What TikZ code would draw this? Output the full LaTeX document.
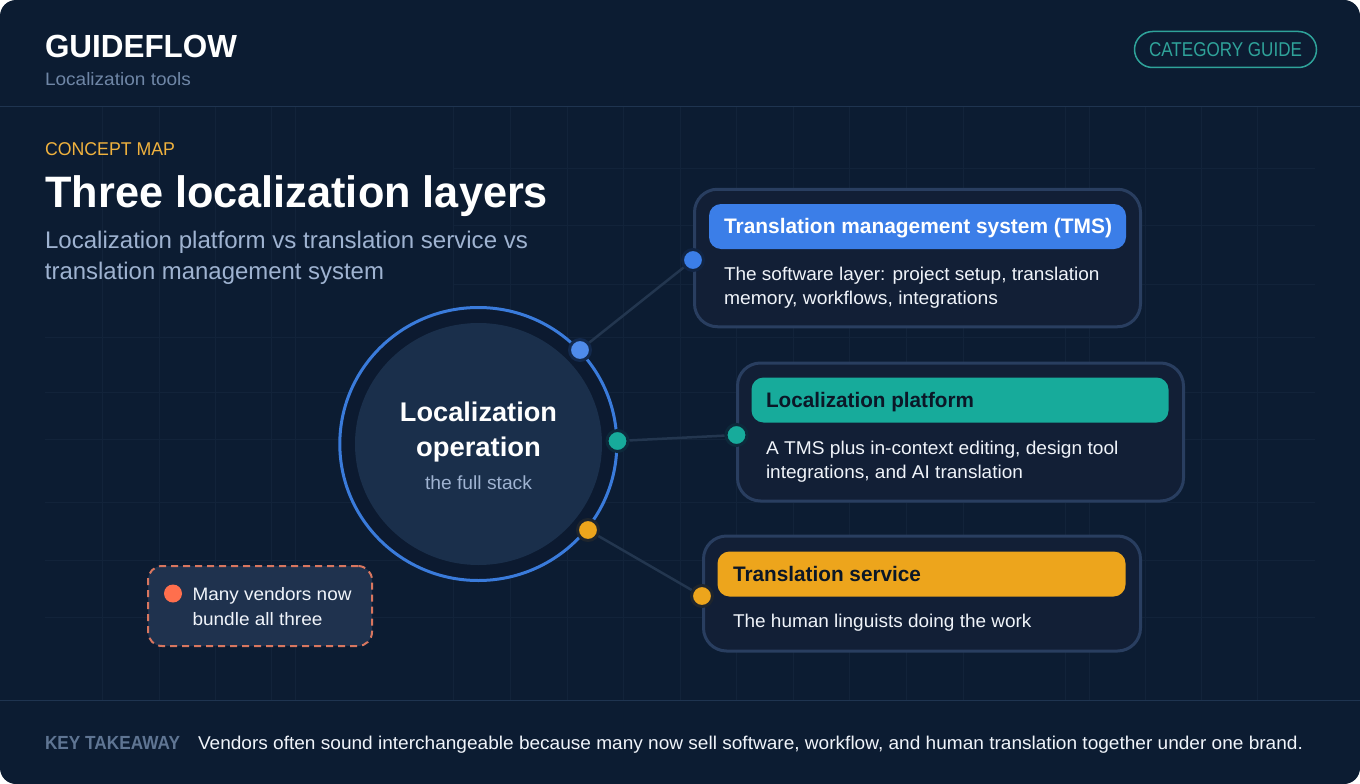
\documentclass[tikz,border=0pt]{standalone}
\usepackage{fontspec}
\usepackage{graphicx}
\usetikzlibrary{shapes.geometric}
\setmainfont{Liberation Sans}
\definecolor{pagebg}{HTML}{0C1C32}
\definecolor{gridc}{HTML}{12233A}
\definecolor{rulec}{HTML}{1F3450}
\definecolor{cardfill}{HTML}{121F36}
\definecolor{cardedge}{HTML}{293E60}
\definecolor{linkc}{HTML}{23364F}
\definecolor{blueacc}{HTML}{3B7EE8}
\definecolor{ringc}{HTML}{3A7BDB}
\definecolor{tealacc}{HTML}{17AB9B}
\definecolor{amberacc}{HTML}{EDA51C}
\definecolor{corefill}{HTML}{1A2F4B}
\definecolor{ringfill}{HTML}{0C1A30}
\definecolor{darkink}{HTML}{0B1727}
\definecolor{softtext}{HTML}{9FB3D1}
\definecolor{mutetext}{HTML}{6F86A6}
\definecolor{bodytext}{HTML}{F0F4FA}
\definecolor{notefill}{HTML}{1F324E}
\definecolor{noteedge}{HTML}{D8765F}
\definecolor{coral}{HTML}{FF6F4D}
\definecolor{pilltext}{HTML}{2FA39A}
\definecolor{keytext}{HTML}{5F7593}
\newcommand{\fw}[2]{\resizebox{#1pt}{\height}{#2}}
\newcommand{\fsz}[1]{\fontsize{#1}{#1}\selectfont}
\tikzset{
  txt/.style={inner sep=0pt,outer sep=0pt,anchor=base west},
  ctxt/.style={inner sep=0pt,outer sep=0pt,anchor=base},
  gridline/.style={draw=gridc,line width=1pt},
  rulel/.style={draw=rulec,line width=1.5pt},
  cardbox/.style={rectangle,rounded corners=23pt,draw=cardedge,fill=cardfill,line width=3pt,inner sep=0pt,outer sep=0pt},
  headbar/.style={rectangle,rounded corners=12pt,inner sep=0pt,outer sep=0pt,minimum width=417pt,minimum height=45pt},
  portdot/.style={circle,inner sep=0pt,outer sep=1.5pt,minimum size=21pt,line width=3pt},
  linkl/.style={draw=linkc,line width=2.5pt},
  headtxt/.style={txt,font=\fsz{21}\bfseries},
  bodytxt/.style={txt,font=\fsz{18.5},text=bodytext},
}
\begin{document}
\begin{tikzpicture}[x=1pt,y=-1pt]
\useasboundingbox (0,0) rectangle (1360,784);
\fill[white] (0,0) rectangle (1360,784);
\fill[pagebg,rounded corners=16pt] (0,0) rectangle (1360,784);
% faint grid
\foreach \x in {102,159,215,271,295,453,510,567,623,680,736,793,849,906,963,1065,1089,1145,1201,1257}
  \draw[gridline] (\x,107) -- (\x,700);
\foreach \y in {337,392,439,502,560,617}
  \draw[gridline] (45,\y) -- (1315,\y);
\foreach \y in {168,225,284}
  \draw[gridline] (453,\y) -- (1315,\y);
% header and footer rules
\draw[rulel] (0,106.5) -- (1360,106.5);
\draw[rulel] (0,700.5) -- (1360,700.5);
% header
\node[txt,font=\fsz{32}\bfseries,text=white] (brand) at (45,58) {\fw{192}{GUIDEFLOW}};
\node[txt,font=\fsz{18},text=mutetext] (brandsub) at (45,85) {\fw{146}{Localization tools}};
\node[rectangle,rounded corners=18pt,draw=pilltext,line width=1.5pt,outer sep=0pt,minimum width=182pt,minimum height=36pt,inner sep=0pt] (pill) at (1225.5,49.5) {};
\node[txt,font=\fsz{20},text=pilltext] (pilltxt) at (1149,57) {\fw{153}{CATEGORY GUIDE}};
% title block
\node[txt,font=\fsz{18.5},text=amberacc!85!white] (eyebrow) at (45,155) {\fw{130}{CONCEPT MAP}};
\node[txt,font=\fsz{44}\bfseries,text=white] (title) at (45.5,207) {\fw{502.5}{Three localization layers}};
\node[txt,font=\fsz{24},text=softtext] (sub1) at (45,248) {\fw{483}{Localization platform vs translation service vs}};
\node[txt,font=\fsz{24},text=softtext] (sub2) at (45,279) {\fw{339}{translation management system}};
% central hub
\node[ellipse,draw=ringc,fill=ringfill,line width=3pt,outer sep=0pt,minimum width=277pt,minimum height=273pt,inner sep=0pt] (ring) at (478.3,444) {};
\node[ellipse,fill=corefill,outer sep=0pt,minimum width=247pt,minimum height=242pt,inner sep=0pt] (core) at (478.5,444) {};
\node[ctxt,font=\fsz{27}\bfseries,text=white] (hub1) at (478.5,421) {\fw{157}{Localization}};
\node[ctxt,font=\fsz{27}\bfseries,text=white] (hub2) at (478.5,456) {\fw{125}{operation}};
\node[ctxt,font=\fsz{19},text=softtext] (hub3) at (478.5,489) {\fw{107}{the full stack}};
% cards
\node[cardbox,minimum width=446pt,minimum height=137.5pt] (tms) at (917.5,258) {};
\node[cardbox,minimum width=446pt,minimum height=138pt] (plat) at (960.5,432) {};
\node[cardbox,minimum width=437pt,minimum height=115pt] (serv) at (922,593.5) {};
\node[headbar,fill=blueacc] (tmshead) at (917.5,226.5) {};
\node[headbar,fill=tealacc] (plathead) at (960,400) {};
\node[headbar,fill=amberacc,minimum width=408pt] (servhead) at (921.5,574) {};
\node[headtxt,text=white] (tmstitle) at (724,233) {\fw{388}{Translation management system (TMS)}};
\node[headtxt,text=darkink] (plattitle) at (766,407) {\fw{208}{Localization platform}};
\node[headtxt,text=darkink] (servtitle) at (733,581.5) {\fw{188}{Translation service}};
\node[bodytxt] (tmsb1) at (724,280) {\fw{375.5}{The software layer: project setup, translation}};
\node[bodytxt] (tmsb2) at (724,304) {\fw{274}{memory, workflows, integrations}};
\node[bodytxt] (platb1) at (766,454) {\fw{352.5}{A TMS plus in-context editing, design tool}};
\node[bodytxt] (platb2) at (766,478) {\fw{257}{integrations, and AI translation}};
\node[bodytxt] (servb1) at (733,627) {\fw{298.5}{The human linguists doing the work}};
% ports
\node[portdot,fill=blueacc!90!white,draw=ringfill!85!blueacc] (p1) at (580,350) {};
\node[portdot,fill=tealacc,draw=ringfill!90!tealacc] (p2) at (617.5,441) {};
\node[portdot,fill=amberacc,draw=ringfill!92!amberacc] (p3) at (588,530) {};
\node[portdot,fill=blueacc,draw=ringfill!90!blueacc] (q1) at (693,260) {};
\node[portdot,fill=tealacc,draw=ringfill!90!tealacc] (q2) at (736.5,435) {};
\node[portdot,fill=amberacc,draw=ringfill!92!amberacc] (q3) at (702,596) {};
\draw[linkl] (p1) -- (q1);
\draw[linkl] (p2) -- (q2);
\draw[linkl] (p3) -- (q3);
% note
\node[rectangle,rounded corners=14pt,fill=notefill,draw=noteedge,line width=2pt,dash pattern=on 7pt off 5pt,outer sep=0pt,minimum width=224pt,minimum height=80pt,inner sep=0pt] (note) at (260,606) {};
\node[circle,fill=coral,outer sep=0pt,minimum size=18pt,inner sep=0pt] (notedot) at (173,593.5) {};
\node[bodytxt,font=\fsz{18}] (note1) at (192.5,600) {\fw{159}{Many vendors now}};
\node[bodytxt,font=\fsz{18}] (note2) at (192.5,625) {\fw{130}{bundle all three}};
% footer
\node[txt,font=\fsz{19}\bfseries,text=keytext] (key) at (45,749) {\fw{135}{KEY TAKEAWAY}};
\node[bodytxt] (keytxt) at (198,749) {\fw{1105}{Vendors often sound interchangeable because many now sell software, workflow, and human translation together under one brand.}};
\end{tikzpicture}
\end{document}
